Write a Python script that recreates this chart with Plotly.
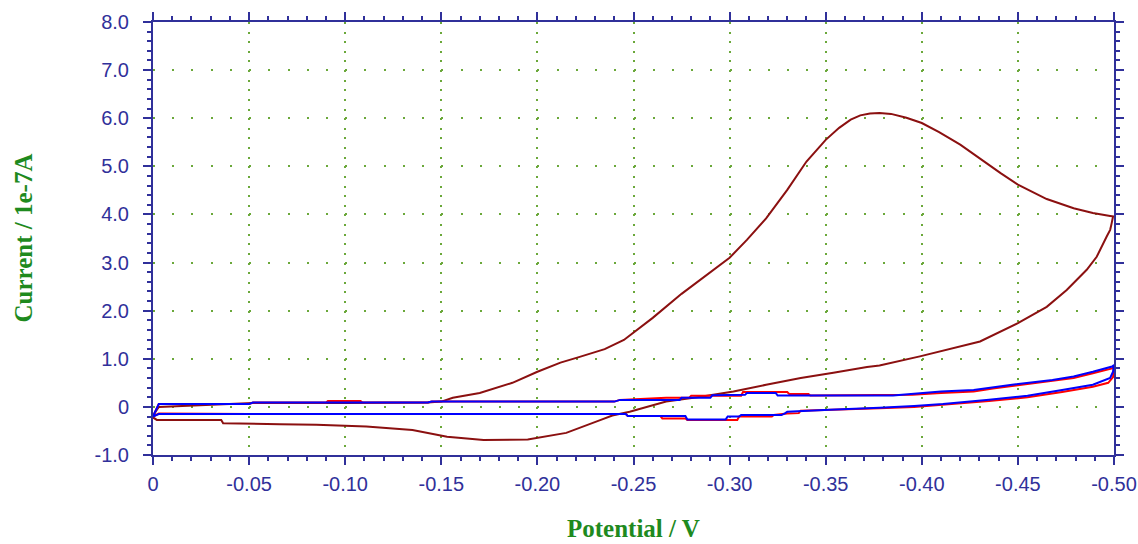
import plotly.graph_objects as go

# ---------------- data (Potential / V, Current / 1e-7 A) ----------------
brown_x = [0, -0.001, -0.003, -0.02, -0.035, -0.052, -0.10, -0.143, -0.15, -0.156,
           -0.170, -0.187, -0.200, -0.212, -0.222, -0.235, -0.245, -0.26, -0.275, -0.29,
           -0.300, -0.309, -0.319, -0.330, -0.340, -0.350, -0.357, -0.363, -0.368, -0.373,
           -0.378, -0.384, -0.392, -0.400, -0.409, -0.420, -0.430, -0.441, -0.450, -0.465,
           -0.479, -0.489, -0.498, -0.4995,
           -0.4988, -0.498, -0.4962, -0.4936, -0.491, -0.4858, -0.4754, -0.465, -0.450, -0.4303,
           -0.413, -0.399, -0.378, -0.3715, -0.354, -0.337, -0.319, -0.302, -0.285, -0.267,
           -0.248, -0.239, -0.233, -0.215, -0.195, -0.185, -0.172, -0.153, -0.135, -0.111,
           -0.085, -0.066, -0.0365, -0.0355, -0.002, 0]
brown_y = [-0.22, -0.12, 0.0, 0.03, 0.05, 0.08, 0.08, 0.09, 0.11, 0.19,
           0.29, 0.50, 0.73, 0.92, 1.04, 1.2, 1.39, 1.85, 2.35, 2.8,
           3.1, 3.47, 3.92, 4.51, 5.1, 5.55, 5.8, 5.97, 6.06, 6.1,
           6.11, 6.09, 6.01, 5.9, 5.71, 5.45, 5.16, 4.86, 4.62, 4.32,
           4.13, 4.03, 3.97, 3.96,
           3.82, 3.68, 3.54, 3.33, 3.12, 2.85, 2.43, 2.08, 1.74, 1.36,
           1.19, 1.05, 0.86, 0.83, 0.71, 0.6, 0.46, 0.32, 0.21, 0.11,
           -0.1, -0.18, -0.27, -0.54, -0.68, -0.69, -0.69, -0.62, -0.48, -0.41,
           -0.37, -0.36, -0.34, -0.27, -0.27, -0.22]

red_x = [0, -0.003, -0.05, -0.052, -0.09, -0.091, -0.108, -0.109, -0.143, -0.145,
         -0.240, -0.243, -0.267, -0.279, -0.280, -0.306, -0.307, -0.330, -0.331, -0.341,
         -0.342, -0.385, -0.395, -0.41, -0.427, -0.437, -0.447, -0.468, -0.479, -0.489,
         -0.499, -0.5,
         -0.4995, -0.497, -0.489, -0.473, -0.455, -0.435, -0.411, -0.396, -0.378, -0.352,
         -0.337, -0.336, -0.331, -0.330, -0.323, -0.322, -0.305, -0.304, -0.278, -0.277,
         -0.265, -0.264, -0.247, -0.246, -0.05, -0.003, 0]
red_y = [-0.2, 0.06, 0.06, 0.09, 0.09, 0.12, 0.12, 0.09, 0.09, 0.11,
         0.11, 0.145, 0.19, 0.19, 0.23, 0.23, 0.31, 0.31, 0.27, 0.27,
         0.235, 0.235, 0.25, 0.29, 0.32, 0.38, 0.43, 0.53, 0.60, 0.70,
         0.80, 0.84,
         0.62, 0.50, 0.42, 0.31, 0.20, 0.12, 0.04, 0.0, -0.03, -0.07,
         -0.08, -0.13, -0.13, -0.14, -0.17, -0.2, -0.2, -0.27, -0.27, -0.24,
         -0.24, -0.19, -0.19, -0.15, -0.15, -0.14, -0.2]

blue_x = [0, -0.003, -0.05, -0.052, -0.143, -0.145, -0.240, -0.243, -0.274, -0.275,
          -0.290, -0.291, -0.308, -0.309, -0.324, -0.325, -0.385, -0.395, -0.41, -0.427,
          -0.437, -0.447, -0.468, -0.479, -0.489, -0.499, -0.5,
          -0.4995, -0.498, -0.489, -0.473, -0.455, -0.435, -0.411, -0.396, -0.378, -0.352,
          -0.330, -0.329, -0.327, -0.306, -0.305, -0.299, -0.298, -0.278, -0.277, -0.247,
          -0.246, -0.003, 0]
blue_y = [-0.2, 0.06, 0.06, 0.09, 0.09, 0.11, 0.11, 0.145, 0.145, 0.19,
          0.19, 0.24, 0.25, 0.29, 0.29, 0.235, 0.235, 0.27, 0.32, 0.35,
          0.41, 0.46, 0.56, 0.63, 0.73, 0.84, 0.87,
          0.73, 0.6, 0.46, 0.35, 0.23, 0.15, 0.06, 0.02, -0.02, -0.06,
          -0.10, -0.13, -0.17, -0.17, -0.2, -0.2, -0.26, -0.26, -0.19, -0.19,
          -0.15, -0.15, -0.2]

x_ticks = [0, -0.05, -0.10, -0.15, -0.20, -0.25, -0.30, -0.35, -0.40, -0.45, -0.50]
x_ticktext = ["0", "-0.05", "-0.10", "-0.15", "-0.20", "-0.25", "-0.30", "-0.35", "-0.40", "-0.45", "-0.50"]
y_ticks = [8, 7, 6, 5, 4, 3, 2, 1, 0, -1]
y_ticktext = ["8.0", "7.0", "6.0", "5.0", "4.0", "3.0", "2.0", "1.0", "0", "-1.0"]

# ---------------- styles ----------------
AX = "#30309A"
GRID = "#6BA83A"
TITLE = "#1E8A1E"

fig = go.Figure()
fig.add_trace(go.Scatter(x=brown_x, y=brown_y, mode="lines",
                         line=dict(color="#8B1010", width=2), showlegend=False))
fig.add_trace(go.Scatter(x=red_x, y=red_y, mode="lines",
                         line=dict(color="#FF0000", width=2), showlegend=False))
fig.add_trace(go.Scatter(x=blue_x, y=blue_y, mode="lines",
                         line=dict(color="#0000FF", width=2), showlegend=False))

fig.update_xaxes(
    range=[0, -0.5], autorange=False, automargin=False,
    tickmode="array", tickvals=x_ticks, ticktext=x_ticktext,
    ticks="outside", ticklen=8, tickwidth=2, tickcolor=AX,
    showline=True, linecolor=AX, linewidth=2, mirror="allticks",
    showgrid=True, gridcolor=GRID, gridwidth=2, griddash="2px,7.62px",
    zeroline=False, ticklabeloverflow="allow",
    tickfont=dict(family="Liberation Sans, Arial", size=20, color=AX),
    ticklabelstandoff=2,
    minor=dict(dtick=0.01, tick0=0, ticks="outside", ticklen=4, tickwidth=2,
               tickcolor=AX, showgrid=False),
)
fig.update_yaxes(
    range=[-1, 8], autorange=False, automargin=False,
    tickmode="array", tickvals=y_ticks, ticktext=y_ticktext,
    ticks="outside", ticklen=8, tickwidth=2, tickcolor=AX,
    showline=True, linecolor=AX, linewidth=2, mirror="allticks",
    showgrid=True, gridcolor=GRID, gridwidth=2, griddash="2px,17.22px",
    zeroline=False, ticklabeloverflow="allow",
    tickfont=dict(family="Liberation Sans, Arial", size=20, color=AX),
    ticklabelstandoff=10,
    minor=dict(dtick=0.2, tick0=0, ticks="outside", ticklen=4, tickwidth=2,
               tickcolor=AX, showgrid=False),
)

fig.add_annotation(text="<b>Potential / V</b>", xref="paper", yref="paper", x=0.5, y=0,
                   yshift=-89, showarrow=False, xanchor="center", yanchor="bottom",
                   font=dict(family="Liberation Serif, Times New Roman", size=25, color=TITLE))
fig.add_annotation(text="<b>Current / 1e-7A</b>", xref="paper", yref="paper", x=0, y=0.5,
                   xshift=-130, showarrow=False, textangle=-90, xanchor="center",
                   yanchor="middle",
                   font=dict(family="Liberation Serif, Times New Roman", size=25, color=TITLE))

fig.update_layout(
    width=1138, height=544,
    margin=dict(l=153, r=24, t=22, b=89),
    paper_bgcolor="white", plot_bgcolor="white",
    showlegend=False,
)

# remove the default 8px body margin so the figure fills the window exactly
fig.write_html("out.html",
               config={"displayModeBar": False},
               post_script="document.body.style.margin='0px';document.body.style.overflow='hidden';")
